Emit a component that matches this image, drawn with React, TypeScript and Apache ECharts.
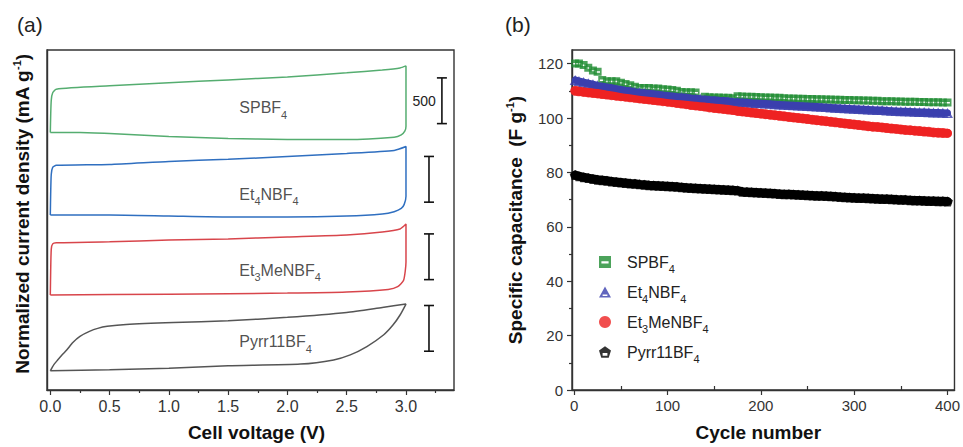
import React, { useEffect, useRef } from "react";
import * as echarts from "echarts";

const FONT = "'Liberation Sans', Arial, Helvetica, sans-serif";

// ---------- Panel (a): cyclic voltammograms ----------
const voltageTicks = [0, 0.5, 1, 1.5, 2, 2.5, 3];
const voltageMinorTicks = [0.25, 0.75, 1.25, 1.75, 2.25, 2.75, 3.25];

// [cell voltage (V), offset current density (mA g^-1)]
const cvSPBF4: [number, number][] = [
  [0, 2815], [0.003, 3000], [0.008, 3170], [0.02, 3250], [0.05, 3290], [0.5, 3326], [1.0, 3359],
  [1.5, 3391], [2.0, 3424], [2.5, 3468], [2.8, 3500], [2.95, 3522], [3.0, 3544], [3.0, 2884],
  [2.99, 2830], [2.96, 2790], [2.9, 2765], [2.5, 2740], [2.0, 2740], [1.5, 2750], [1.0, 2772],
  [0.5, 2804], [0.25, 2815], [0, 2815],
];
const cvEt4NBF4: [number, number][] = [
  [0, 1913], [0.003, 2150], [0.008, 2360], [0.02, 2435], [0.05, 2457], [0.5, 2467], [1.0, 2500],
  [1.5, 2522], [2.0, 2554], [2.5, 2587], [2.9, 2620], [3.0, 2663], [3.0, 2120], [2.985, 2030],
  [2.96, 1985], [2.9, 1950], [2.8, 1925], [2.5, 1902], [2.0, 1891], [1.5, 1891], [1.0, 1902],
  [0.5, 1913], [0, 1913],
];
const cvEt3MeNBF4: [number, number][] = [
  [0, 1040], [0.003, 1300], [0.008, 1540], [0.02, 1598], [0.05, 1609], [0.5, 1620], [1.0, 1641],
  [1.5, 1652], [2.0, 1674], [2.5, 1696], [2.8, 1728], [2.95, 1761], [3.0, 1815], [3.0, 1400],
  [2.98, 1200], [2.93, 1130], [2.85, 1100], [2.5, 1072], [2.0, 1060], [1.0, 1048], [0, 1040],
];
const cvPyrr11BF4: [number, number][] = [
  [0, 210], [0.015, 245], [0.03, 278], [0.06, 325], [0.1, 385], [0.14, 440], [0.19, 520],
  [0.25, 587], [0.33, 641], [0.4, 674], [0.48, 696], [0.64, 717], [1.04, 739], [1.5, 757],
  [2.0, 795], [2.5, 848], [2.8, 903], [3.0, 940], [2.95, 820], [2.89, 710], [2.81, 601],
  [2.67, 475], [2.53, 384], [2.39, 329], [2.11, 283], [1.5, 264], [1.0, 239], [0.5, 221], [0, 210],
];

// curve labels: [V, current, name]
const cvLabels: [number, number, string][] = [
  [1.59, 3087, "SPBF4"],
  [1.59, 2141, "Et4NBF4"],
  [1.59, 1308, "Et3MeNBF4"],
  [1.59, 529, "Pyrr11BF4"],
];

// scale bars: [V, lower end current]
const scaleBarValue = 500;
const scaleBars: [number, number][] = [
  [3.303, 2913],
  [3.194, 2054],
  [3.194, 1207],
  [3.194, 424],
];

// ---------- Panel (b): cycling stability ----------
const cycleTicks = [0, 100, 200, 300, 400];
const cycleMinorTicks = [50, 150, 250, 350];
const capTicks = [0, 20, 40, 60, 80, 100, 120];
const capMinorTicks = [10, 30, 50, 70, 90, 110];

const cycles = [
  1, 5, 10, 15, 20, 25, 30, 35, 40, 45, 50, 55, 60, 65, 70, 75, 80, 85, 90, 95, 100, 105, 110, 115,
  120, 125, 130, 135, 140, 145, 150, 155, 160, 165, 170, 175, 180, 185, 190, 195, 200, 205, 210,
  215, 220, 225, 230, 235, 240, 245, 250, 255, 260, 265, 270, 275, 280, 285, 290, 295, 300, 305,
  310, 315, 320, 325, 330, 335, 340, 345, 350, 355, 360, 365, 370, 375, 380, 385, 390, 395, 400,
];
const capSPBF4 = [
  120, 120, 119.5, 118.5, 117.5, 117, 114, 113.5, 113.5, 113.5, 113, 112.5, 112, 111.5, 111, 111, 111,
  110.8, 110.8, 110.6, 110.5, 110.3, 110, 109.6, 109.5, 109.5, 109.4, 106, 107.8, 107.6, 107.5, 107.5,
  107.4, 107.4, 107.3, 108, 107.9, 107.8, 107.8, 107.7, 107.6, 107.5, 107.5, 107.4, 107.4, 107.3,
  107.2, 107.2, 107.1, 107.1, 107, 107, 106.9, 106.9, 106.8, 106.8, 106.7, 106.7, 106.6, 106.6, 106.5,
  106.5, 106.4, 106.4, 106.3, 106.3, 106.2, 106.2, 106.2, 106.1, 106.1, 106, 106, 106, 105.9, 105.9,
  105.8, 105.8, 105.8, 105.7, 105.7,
];
const capEt4NBF4 = [
  114, 113.6, 113.2, 112.8, 112.4, 112, 111.7, 111.4, 111.1, 110.8, 110.5, 110.2, 110, 109.7, 109.5,
  109.3, 109.1, 108.9, 108.7, 108.5, 108.3, 108.1, 107.9, 107.8, 107.6, 107.4, 107.3, 107.1, 107,
  106.8, 106.7, 106.5, 106.4, 106.3, 106.1, 106, 105.9, 105.8, 105.6, 105.5, 105.4, 105.3, 105.2,
  105.1, 105, 104.9, 104.8, 104.7, 104.6, 104.5, 104.4, 104.3, 104.2, 104.1, 104, 103.9, 103.8, 103.7,
  103.6, 103.5, 103.4, 103.3, 103.2, 103.1, 103, 102.9, 102.9, 102.8, 102.7, 102.6, 102.5, 102.5,
  102.4, 102.3, 102.2, 102.2, 102.1, 102, 102, 101.9, 101.8,
];
const capEt3MeNBF4 = [
  110, 109.8, 109.6, 109.4, 109.2, 109, 108.8, 108.6, 108.4, 108.2, 108, 107.8, 107.6, 107.4, 107.2,
  107, 106.8, 106.6, 106.4, 106.2, 106, 105.8, 105.5, 105.3, 105.1, 104.8, 104.6, 104.4, 104.2, 103.9,
  103.7, 103.5, 103.3, 103.1, 102.9, 102.6, 102.4, 102.2, 102, 101.8, 101.6, 101.4, 101.2, 101, 100.8,
  100.6, 100.4, 100.2, 100, 99.8, 99.6, 99.4, 99.2, 99, 98.8, 98.6, 98.4, 98.2, 98, 97.8, 97.6, 97.4,
  97.2, 97, 96.8, 96.7, 96.5, 96.3, 96.1, 96, 95.8, 95.6, 95.5, 95.3, 95.2, 95, 94.9, 94.7, 94.6, 94.5,
  94.4,
];
const capPyrr11BF4 = [
  79, 78.6, 78.2, 77.9, 77.6, 77.3, 77.1, 76.9, 76.7, 76.5, 76.3, 76.1, 75.9, 75.8, 75.6, 75.5, 75.3,
  75.2, 75.1, 75, 74.9, 74.8, 74.7, 74.5, 74.4, 74.3, 74.2, 74.1, 74, 73.9, 73.8, 73.7, 73.6, 73.5,
  73.4, 73.3, 72.9, 72.8, 72.7, 72.6, 72.5, 72.4, 72.3, 72.2, 72.1, 72, 72, 71.9, 71.8, 71.7, 71.6,
  71.5, 71.4, 71.4, 71.3, 71.2, 71.1, 71, 70.9, 70.8, 70.7, 70.6, 70.6, 70.5, 70.4, 70.3, 70.2, 70.2,
  70.1, 70, 69.9, 69.9, 69.8, 69.7, 69.7, 69.6, 69.5, 69.5, 69.4, 69.4, 69.3,
];

const legendNames = ["SPBF4", "Et4NBF4", "Et3MeNBF4", "Pyrr11BF4"];
const richNames: Record<string, string> = {
  SPBF4: "SPBF{s|4}",
  Et4NBF4: "Et{s|4}NBF{s|4}",
  Et3MeNBF4: "Et{s|3}MeNBF{s|4}",
  Pyrr11BF4: "Pyrr11BF{s|4}",
};

const SQUARE_SLOT = "path://M0,0L10,0L10,10L0,10ZM2,4.4L2,6.2L8,6.2L8,4.4Z";
const TRIANGLE = "path://M5,0L10,9L0,9Z";
const TRIANGLE_SLOT = "path://M5,0L10,9L0,9ZM3,6.6L3,7.8L7,7.8L7,6.6Z";
const PENTAGON = "path://M5,0L10,3.6L8.1,9.5L1.9,9.5L0,3.6Z";
const PENTAGON_SLOT = "path://M5,0L10,3.6L8.1,9.5L1.9,9.5L0,3.6ZM3,5.6L3,7.8L7,7.8L7,5.6Z";

// last point drawn with its open (hollow) marker, as in the figure
const markers = (ys: number[], lastItem: any) =>
  cycles.map((c, i) => (i === cycles.length - 1 ? { value: [c, ys[i]], ...lastItem } : [c, ys[i]]));
const pairs = (ys: number[]) => cycles.map((c, i) => [c, ys[i]]);

export default function App() {
  const ref = useRef<HTMLDivElement>(null);

  useEffect(() => {
    if (!ref.current) return;
    const chart = echarts.init(ref.current, undefined, { renderer: "svg" });

    const axisColor = "#333";
    const labelStyleA = { fontSize: 16, color: "#333", fontFamily: FONT };
    const labelStyleB = { fontSize: 15, color: "#333", fontFamily: FONT };
    const nameStyle = (padding: number[]) => ({
      fontSize: 19,
      fontWeight: "bold" as const,
      color: "#111",
      fontFamily: FONT,
      padding,
      rich: {
        sup: { fontSize: 11, fontWeight: "bold" as const, color: "#111", fontFamily: FONT, padding: [0, 0, 11, 0] },
      },
    });
    const subRich = {
      s: { fontSize: 11, color: "#222", fontFamily: FONT, padding: [14, 0, 0, 0] },
      g: { width: 11 },
    };

    const cvLine = (name: string, data: [number, number][], color: string) => ({
      type: "line",
      name,
      xAxisIndex: 0,
      yAxisIndex: 0,
      data,
      symbol: "none",
      smooth: 0.2,
      lineStyle: { color, width: 1.5 },
      silent: true,
    });

    const band = (name: string, ys: number[], color: string, width: number) => ({
      type: "line",
      name,
      xAxisIndex: 2,
      yAxisIndex: 1,
      data: pairs(ys),
      symbol: "none",
      lineStyle: { color, width, cap: "round" },
      silent: true,
    });

    const legendRow = (name: string, i: number, extra: any = {}) => ({
      orient: "vertical",
      left: 594,
      top: 249 + i * 30,
      itemWidth: 12,
      itemHeight: 12,
      selectedMode: false,
      data: [{ name, ...extra }],
      formatter: (n: string) => "{g| }" + richNames[n],
      textStyle: { fontSize: 16, color: "#222", fontFamily: FONT, rich: subRich },
    });

    chart.setOption({
      animation: false,
      title: [
        { text: "(a)", left: 12, top: 9, textStyle: { fontSize: 21, fontWeight: "normal", color: "#222", fontFamily: FONT } },
        { text: "(b)", left: 500, top: 9, textStyle: { fontSize: 21, fontWeight: "normal", color: "#222", fontFamily: FONT } },
      ],
      grid: [
        { left: 47, top: 50, width: 407, height: 342, show: true, borderColor: axisColor, borderWidth: 1.4 },
        { left: 572, top: 50, width: 386, height: 342, show: true, borderColor: axisColor, borderWidth: 1.4 },
      ],
      xAxis: [
        {
          gridIndex: 0, type: "value", min: -0.028, max: 3.405,
          axisLine: { onZero: false, lineStyle: { color: axisColor, width: 1.4 } },
          axisTick: { customValues: voltageTicks, length: 5, lineStyle: { color: axisColor, width: 1.2 } },
          axisLabel: { customValues: voltageTicks, formatter: (v: number) => v.toFixed(1), margin: 8, ...labelStyleA },
          splitLine: { show: false },
          name: "Cell voltage (V)", nameLocation: "middle", nameGap: 33, nameTextStyle: nameStyle([0, 0, 0, 12]),
        },
        {
          gridIndex: 0, type: "value", min: -0.028, max: 3.405, position: "bottom",
          axisLine: { show: false, onZero: false },
          axisTick: { customValues: voltageMinorTicks, length: 3, lineStyle: { color: axisColor, width: 1.2 } },
          axisLabel: { show: false },
          splitLine: { show: false },
        },
        {
          gridIndex: 1, type: "value", min: -2.44, max: 407.5,
          axisLine: { onZero: false, lineStyle: { color: axisColor, width: 1.4 } },
          axisTick: { customValues: cycleTicks, length: 5, lineStyle: { color: axisColor, width: 1.2 } },
          axisLabel: { customValues: cycleTicks, margin: 8, ...labelStyleB },
          splitLine: { show: false },
          name: "Cycle number", nameLocation: "middle", nameGap: 33, nameTextStyle: nameStyle([0, 10, 0, 0]),
        },
        {
          gridIndex: 1, type: "value", min: -2.44, max: 407.5, position: "bottom",
          axisLine: { show: false, onZero: false },
          axisTick: { customValues: cycleMinorTicks, inside: true, length: 4, lineStyle: { color: axisColor, width: 1.2 } },
          axisLabel: { show: false },
          splitLine: { show: false },
        },
      ],
      yAxis: [
        {
          gridIndex: 0, type: "value", min: 0, max: 3718,
          axisLine: { show: true, onZero: false, lineStyle: { color: axisColor, width: 1.4 } },
          axisTick: { show: false },
          axisLabel: { show: false },
          splitLine: { show: false },
          name: "Normalized current density (mA g{sup|-1})", nameLocation: "middle", nameGap: 14,
          nameTextStyle: nameStyle([0, 0, 0, 12]),
        },
        {
          gridIndex: 1, type: "value", min: 0, max: 125,
          axisLine: { show: true, onZero: false, lineStyle: { color: axisColor, width: 1.4 } },
          axisTick: { customValues: capTicks, length: 5, lineStyle: { color: axisColor, width: 1.2 } },
          axisLabel: { customValues: capTicks, margin: 9, ...labelStyleB },
          splitLine: { show: false },
          name: "Specific capacitance  (F g{sup|-1})", nameLocation: "middle", nameGap: 46,
          nameTextStyle: nameStyle([0, 0, 0, 0]),
        },
        {
          gridIndex: 1, type: "value", min: 0, max: 125, position: "left",
          axisLine: { show: false, onZero: false },
          axisTick: { customValues: capMinorTicks, length: 3, lineStyle: { color: axisColor, width: 1.2 } },
          axisLabel: { show: false },
          splitLine: { show: false },
        },
      ],
      legend: [
        legendRow(legendNames[0], 0, { icon: SQUARE_SLOT }),
        legendRow(legendNames[1], 1, { icon: TRIANGLE_SLOT }),
        legendRow(legendNames[2], 2, { icon: "circle" }),
        legendRow(legendNames[3], 3, { icon: PENTAGON_SLOT }),
      ],
      series: [
        cvLine("cv-SPBF4", cvSPBF4, "#55ad70"),
        cvLine("cv-Et4NBF4", cvEt4NBF4, "#2f6fc0"),
        cvLine("cv-Et3MeNBF4", cvEt3MeNBF4, "#d8454b"),
        cvLine("cv-Pyrr11BF4", cvPyrr11BF4, "#555555"),
        {
          type: "scatter",
          name: "cv-labels",
          xAxisIndex: 0,
          yAxisIndex: 0,
          silent: true,
          symbolSize: 1,
          itemStyle: { color: "rgba(0,0,0,0)" },
          data: cvLabels.map((d) => ({ value: [d[0], d[1]], name: d[2] })),
          label: {
            show: true,
            position: "right",
            distance: 0,
            formatter: (p: any) => richNames[p.name],
            fontSize: 16,
            color: "#222",
            fontFamily: FONT,
            rich: subRich,
          },
        },
        {
          type: "custom",
          name: "scale-bars",
          xAxisIndex: 0,
          yAxisIndex: 0,
          silent: true,
          data: scaleBars,
          renderItem: (params: any, api: any) => {
            const x = api.value(0);
            const y0 = api.value(1);
            const top = api.coord([x, y0 + scaleBarValue]);
            const bot = api.coord([x, y0]);
            const cap = 5;
            const st = { stroke: "#111", lineWidth: 1.6 };
            const children: any[] = [
              { type: "line", shape: { x1: top[0], y1: top[1], x2: bot[0], y2: bot[1] }, style: st },
              { type: "line", shape: { x1: top[0] - cap, y1: top[1], x2: top[0] + cap, y2: top[1] }, style: st },
              { type: "line", shape: { x1: bot[0] - cap, y1: bot[1], x2: bot[0] + cap, y2: bot[1] }, style: st },
            ];
            if (params.dataIndex === 0) {
              children.push({
                type: "text",
                style: {
                  text: String(scaleBarValue),
                  x: top[0] - 6,
                  y: (top[1] + bot[1]) / 2,
                  align: "right",
                  verticalAlign: "middle",
                  fontSize: 14,
                  fontFamily: FONT,
                  fill: "#222",
                },
              });
            }
            return { type: "group", children };
          },
        },
        band("band-Pyrr11BF4", capPyrr11BF4, "#000000", 9),
        {
          type: "scatter", name: "Pyrr11BF4", xAxisIndex: 2, yAxisIndex: 1,
          data: markers(capPyrr11BF4, { symbol: PENTAGON_SLOT }), symbol: PENTAGON, symbolSize: [11, 10],
          itemStyle: { color: "#000000" },
        },
        band("band-Et3MeNBF4", capEt3MeNBF4, "#ee2222", 9),
        {
          type: "scatter", name: "Et3MeNBF4", xAxisIndex: 2, yAxisIndex: 1,
          data: markers(capEt3MeNBF4, {
            symbol: "emptyCircle", symbolSize: 7,
            itemStyle: { color: "#ee2222", borderColor: "#ee2222", borderWidth: 3.5 },
          }),
          symbol: "circle", symbolSize: 10,
          itemStyle: { color: "#ee2222" },
        },
        band("band-Et4NBF4", capEt4NBF4, "#3a3fae", 7),
        {
          type: "scatter", name: "Et4NBF4", xAxisIndex: 2, yAxisIndex: 1,
          data: markers(capEt4NBF4, { symbol: TRIANGLE_SLOT }), symbol: TRIANGLE, symbolSize: [11, 10],
          itemStyle: { color: "#3a3fae" },
        },
        {
          type: "scatter", name: "SPBF4", xAxisIndex: 2, yAxisIndex: 1,
          data: pairs(capSPBF4), symbol: SQUARE_SLOT, symbolSize: [8, 8],
          itemStyle: { color: "#1f8c32" },
        },
      ],
    });

    return () => chart.dispose();
  }, []);

  return (
    <div
      ref={ref}
      style={{ position: "absolute", left: 0, top: 0, width: 963, height: 447, background: "#fff" }}
    />
  );
}
